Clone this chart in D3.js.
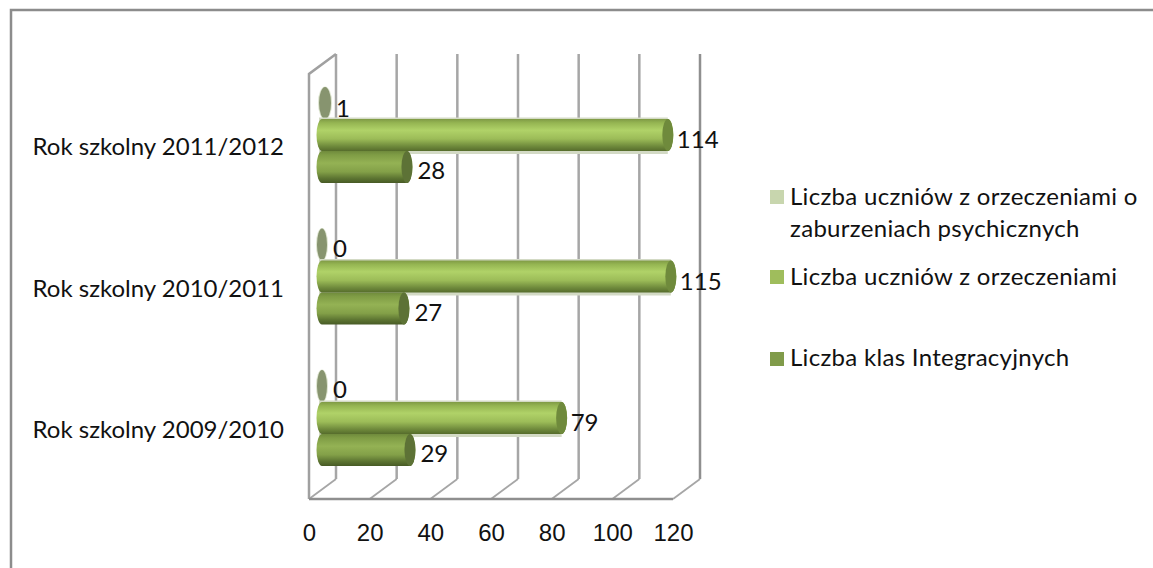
<!DOCTYPE html>
<html><head><meta charset="utf-8">
<script src="https://cdn.jsdelivr.net/npm/d3@7"></script>
<style>html,body{margin:0;background:#fff;overflow:hidden}svg{display:block;font-family:Lato,"Open Sans",sans-serif;fill:#111}</style>
</head><body><svg id="c" width="1153" height="568"></svg>
<script>
const categories = ["Rok szkolny 2011/2012","Rok szkolny 2010/2011","Rok szkolny 2009/2010"];
const seriesNames = ["Liczba uczniów z orzeczeniami o zaburzeniach psychicznych","Liczba uczniów z orzeczeniami","Liczba klas Integracyjnych"];
const psych = [1,0,0];
const orzeczenia = [114,115,79];
const klasy = [28,27,29];
const tickValues = [0,20,40,60,80,100,120];

const svg = d3.select("#c");
const FS = 24;
// frame
svg.append("path").attr("d","M11,568V10H1153").attr("fill","none").attr("stroke","#8c8c8c").attr("stroke-width",2.5);

const x = d3.scaleLinear().domain([0,120]).range([309,673]);
const depthX = 27, depthY = 20, barShift = 13;
const yTop = 74, yBot = 499;
const y = d3.scalePoint().domain(categories).range([135,418]);
const seriesOffset = d3.scaleOrdinal().domain([0,1,2]).range([-32,0,32]);
const R = 16, RX = 5.5;

// gradients
const defs = svg.append("defs");
function grad(id, stops){
  const g = defs.append("linearGradient").attr("id",id).attr("x1",0).attr("y1",0).attr("x2",0).attr("y2",1);
  stops.forEach(s=>g.append("stop").attr("offset",s[0]).attr("stop-color",s[1]));
}
grad("g1",[[0,"#7f9a45"],[.12,"#95b552"],[.35,"#b0d268"],[.62,"#9cbc58"],[.85,"#6f8a3c"],[1,"#566c2c"]]);
grad("g2",[[0,"#6f8a3c"],[.12,"#7f9c45"],[.38,"#94b254"],[.65,"#83a048"],[.85,"#5d7532"],[1,"#475a25"]]);

// walls
const grid = svg.append("g").attr("fill","none");
tickValues.forEach(t=>{
  grid.append("line").attr("x1",x(t)+depthX).attr("x2",x(t)+depthX).attr("y1",yTop-depthY).attr("y2",yBot-depthY)
    .attr("stroke", t===120?"#8f8f8f":"#a6a6a6").attr("stroke-width",2.5);
  grid.append("line").attr("x1",x(t)).attr("x2",x(t)+depthX).attr("y1",yBot).attr("y2",yBot-depthY)
    .attr("stroke","#a6a6a6").attr("stroke-width",1.8);
});
grid.append("path").attr("d",`M${x(0)},${yBot}V${yTop}L${x(0)+depthX},${yTop-depthY}`).attr("stroke","#a0a0a0").attr("stroke-width",2.5);
grid.append("line").attr("x1",x(0)).attr("x2",x(120)).attr("y1",yBot).attr("y2",yBot).attr("stroke","#8f8f8f").attr("stroke-width",2.5);

// bars
const rows = [];
categories.forEach((c,i)=>{ [psych,orzeczenia,klasy].forEach((arr,s)=>rows.push({c,s,v:arr[i]})); });
const bars = svg.append("g");
function shadow(d){
  const cy = y(d.c)+seriesOffset(d.s), x0 = x(0)+barShift, x1 = x(d.v)+barShift;
  bars.append("rect").attr("x",x0-3).attr("y",cy-R-1.5).attr("width",x1-x0+3).attr("height",2*R+4.5).attr("fill","#d3dac5");
}
function cyl(d){
  const cy = y(d.c)+seriesOffset(d.s), x0 = x(0)+barShift, x1 = x(d.v)+barShift;
  const g = bars.append("g");
  if(d.s===0){
    const w = d.v>0?6.5:5.5;
    g.append("ellipse").attr("cx",x1).attr("cy",cy).attr("rx",w+.6).attr("ry",R+.5).attr("fill","#dfe6d2");
    g.append("ellipse").attr("cx",x1).attr("cy",cy).attr("rx",w-.5).attr("ry",R).attr("fill","#87946f");
    return;
  }
  const p = `M${x0},${cy-R}H${x1}A${RX},${R} 0 0 1 ${x1},${cy+R}H${x0}A${RX},${R} 0 0 1 ${x0},${cy-R}Z`;
  g.append("path").attr("d",p).attr("fill",`url(#g${d.s})`);
  g.append("ellipse").attr("cx",x1).attr("cy",cy).attr("rx",RX).attr("ry",R).attr("fill",d.s===1?"#6f8a3c":"#5d7236");
}
rows.filter(d=>d.s===0).forEach(cyl);
rows.filter(d=>d.s===1).forEach(shadow);
rows.filter(d=>d.s===2).forEach(cyl);
rows.filter(d=>d.s===1).forEach(cyl);

// value labels
svg.append("g").attr("font-size",FS).selectAll("text").data(rows).join("text")
  .attr("x",d=>x(d.v)+barShift+(d.s===0?11:d.s===1?9:10.5))
  .attr("y",d=>y(d.c)+seriesOffset(d.s)+(d.s===0?(d.v>0?14:12):d.s===1?13:12))
  .text(d=>d.v);

// category labels
svg.append("g").attr("font-size",FS).attr("text-anchor","end").selectAll("text").data(categories).join("text")
  .attr("x",284).attr("y",d=>y(d)+20).text(d=>d);

// value axis
const ax = svg.append("g").attr("transform","translate(0,541)")
  .call(d3.axisBottom(x).tickValues(tickValues).tickSize(0).tickPadding(0));
ax.select(".domain").remove();
ax.selectAll("text").attr("font-size",FS).attr("font-family","inherit").attr("fill","#111").attr("dy",0).attr("y",0);

// legend
const legendColors = ["#c8d6ae","#9fbd5c","#809b4a"];
const legendRows = [
  {c:0,sy:190,lines:[["Liczba uczniów z orzeczeniami o",205],["zaburzeniach psychicznych",237]]},
  {c:1,sy:270,lines:[["Liczba uczniów z orzeczeniami",285]]},
  {c:2,sy:352,lines:[["Liczba klas Integracyjnych",366]]}
];
const lg = svg.append("g").attr("font-size",FS).attr("letter-spacing",0.3);
legendRows.forEach(r=>{
  lg.append("rect").attr("x",770).attr("y",r.sy).attr("width",14).attr("height",14).attr("fill",legendColors[r.c]);
  r.lines.forEach(l=>lg.append("text").attr("x",790).attr("y",l[1]).text(l[0]));
});
</script></body></html>
